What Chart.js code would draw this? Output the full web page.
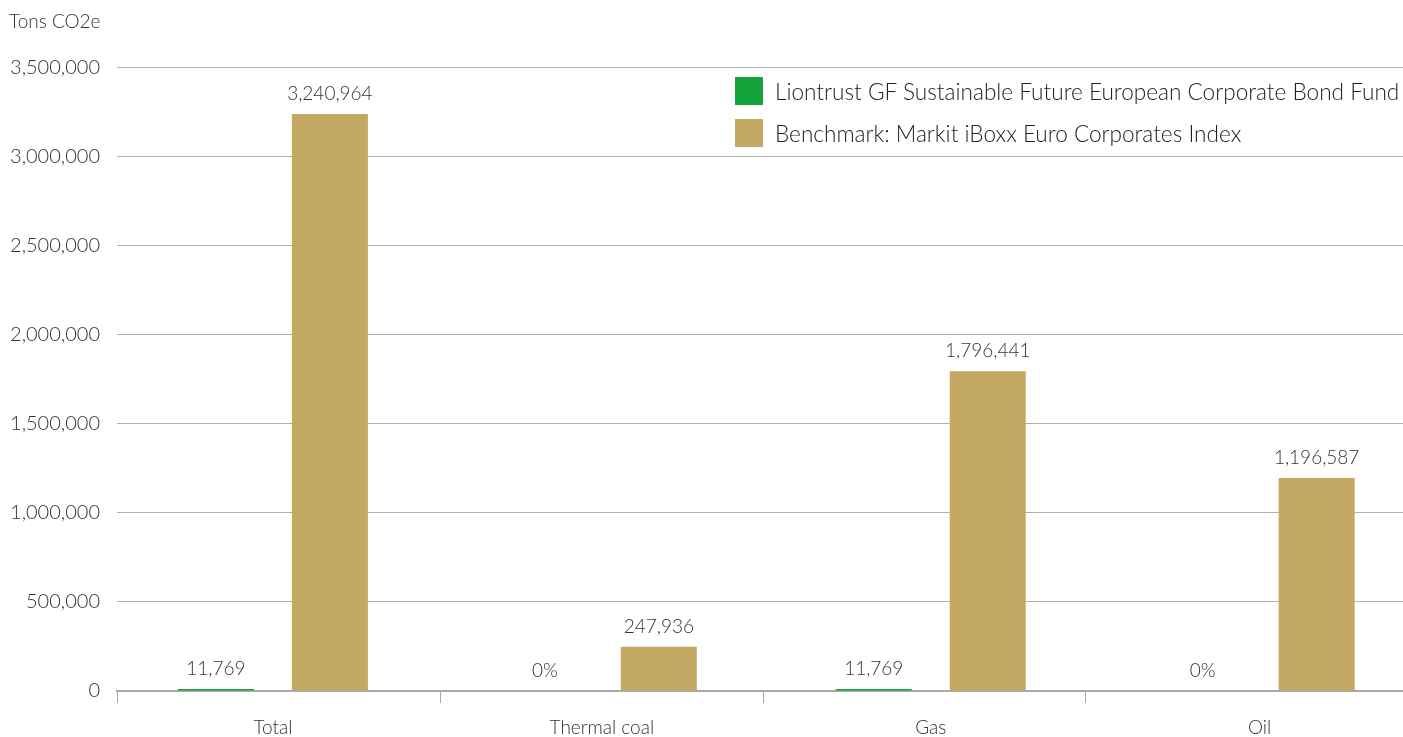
<!DOCTYPE html>
<html lang="en">

<head>
    <meta charset="UTF-8">
    <meta name="viewport" content="width=device-width, initial-scale=1.0">
    <title>Fossil fuel emissions</title>
    <script src="https://cdn.jsdelivr.net/npm/chart.js"></script>
    <style>
        html,
        body {
            margin: 0;
            padding: 0;
            background: #fff;
            overflow: hidden;
        }

        .wrap {
            position: relative;
            width: 1408px;
            height: 737px;
        }

        .legend {
            position: absolute;
            left: 735px;
            top: 77px;
            font-family: Lato, "Open Sans", sans-serif;
            font-weight: 300;
            font-size: 22.6px;
            color: #222;
        }

        .legend div {
            display: flex;
            align-items: center;
            height: 28px;
            margin-bottom: 14px;
            white-space: nowrap;
        }

        .legend span {
            display: inline-block;
            width: 28px;
            height: 28px;
            margin-right: 12px;
        }
    </style>
</head>

<body>
    <div class="wrap">
        <canvas id="chart" width="1408" height="737"></canvas>
        <div class="legend" id="legend"></div>
    </div>

    <script>
        // categories and values (tons CO2e)
        const categories = ['Total', 'Thermal coal', 'Gas', 'Oil'];
        const fundValues = [11769, 0, 11769, 0];
        const benchmarkValues = [3240964, 247936, 1796441, 1196587];
        const seriesNames = [
            'Liontrust GF Sustainable Future European Corporate Bond Fund',
            'Benchmark: Markit iBoxx Euro Corporates Index'
        ];
        const yMax = 3500000;
        const yStep = 500000;

        const GREEN = '#14a43b';
        const GOLD = '#c3a961';
        const FONT = 'Lato, "Open Sans", sans-serif';

        const fmt = v => v.toLocaleString('en-US');

        // value labels above each bar, zeros shown as 0%
        const valueLabels = {
            id: 'valueLabels',
            afterDatasetsDraw(chart) {
                const ctx = chart.ctx;
                ctx.save();
                ctx.font = '300 19px ' + FONT;
                ctx.fillStyle = '#333';
                ctx.textAlign = 'center';
                ctx.textBaseline = 'alphabetic';
                chart.data.datasets.forEach((ds, di) => {
                    chart.getDatasetMeta(di).data.forEach((bar, i) => {
                        const v = ds.data[i].y;
                        ctx.fillText(v === 0 ? '0%' : fmt(v), bar.x, bar.y - 14);
                    });
                });
                ctx.restore();
            }
        };

        // small tick marks under the baseline between categories
        const categoryTicks = {
            id: 'categoryTicks',
            afterDraw(chart) {
                const { ctx, chartArea } = chart;
                const step = (chartArea.right - chartArea.left) / categories.length;
                ctx.save();
                ctx.strokeStyle = '#a9a9a9';
                ctx.lineWidth = 1;
                for (let i = 0; i <= categories.length; i++) {
                    const x = Math.round(chartArea.left + i * step) + 0.5;
                    ctx.beginPath();
                    ctx.moveTo(x, chartArea.bottom + 1);
                    ctx.lineTo(x, chartArea.bottom + 12);
                    ctx.stroke();
                }
                ctx.restore();
            }
        };

        const toPoints = arr => arr.map((v, i) => ({ x: i, y: v }));

        const chart = new Chart(document.getElementById('chart'), {
            type: 'bar',
            data: {
                datasets: [{
                        label: seriesNames[0],
                        data: toPoints(fundValues),
                        backgroundColor: GREEN
                    },
                    {
                        label: seriesNames[1],
                        data: toPoints(benchmarkValues),
                        backgroundColor: GOLD
                    }
                ]
            },
            options: {
                responsive: false,
                animation: false,
                categoryPercentage: 0.693,
                barPercentage: 0.667,
                layout: {
                    padding: {
                        left: 9
                    }
                },
                plugins: {
                    legend: {
                        display: false
                    },
                    tooltip: {
                        enabled: false
                    },
                    title: {
                        display: true,
                        text: 'Tons CO2e',
                        align: 'start',
                        color: '#333',
                        font: {
                            family: FONT,
                            size: 19,
                            weight: 300,
                            lineHeight: 1.2
                        },
                        padding: {
                            top: 10,
                            bottom: 35
                        }
                    }
                },
                scales: {
                    x: {
                        type: 'linear',
                        offset: false,
                        min: -0.474,
                        max: 3.451,
                        afterBuildTicks: scale => {
                            scale.ticks = categories.map((c, i) => ({ value: i }));
                        },
                        afterFit: scale => {
                            scale.height = 46;
                        },
                        grid: {
                            display: false,
                            offset: false
                        },
                        border: {
                            display: true,
                            color: '#a9a9a9',
                            width: 2
                        },
                        ticks: {
                            padding: 17,
                            color: '#333',
                            maxRotation: 0,
                            autoSkip: false,
                            font: {
                                family: FONT,
                                size: 19,
                                weight: 300
                            },
                            callback: v => categories[v]
                        }
                    },
                    y: {
                        min: 0,
                        max: yMax,
                        afterFit: scale => {
                            scale.width = 108;
                        },
                        grid: {
                            color: '#b0b0b0',
                            lineWidth: 1,
                            drawTicks: false
                        },
                        border: {
                            display: false
                        },
                        ticks: {
                            stepSize: yStep,
                            padding: 17,
                            color: '#333',
                            font: {
                                family: FONT,
                                size: 20,
                                weight: 300
                            },
                            callback: v => fmt(v)
                        }
                    }
                }
            },
            plugins: [valueLabels, categoryTicks]
        });

        // legend drawn as html, colours taken from the datasets
        document.getElementById('legend').innerHTML = chart.data.datasets
            .map(ds => `<div><span style="background:${ds.backgroundColor}"></span>${ds.label}</div>`)
            .join('');
    </script>
</body>

</html>
